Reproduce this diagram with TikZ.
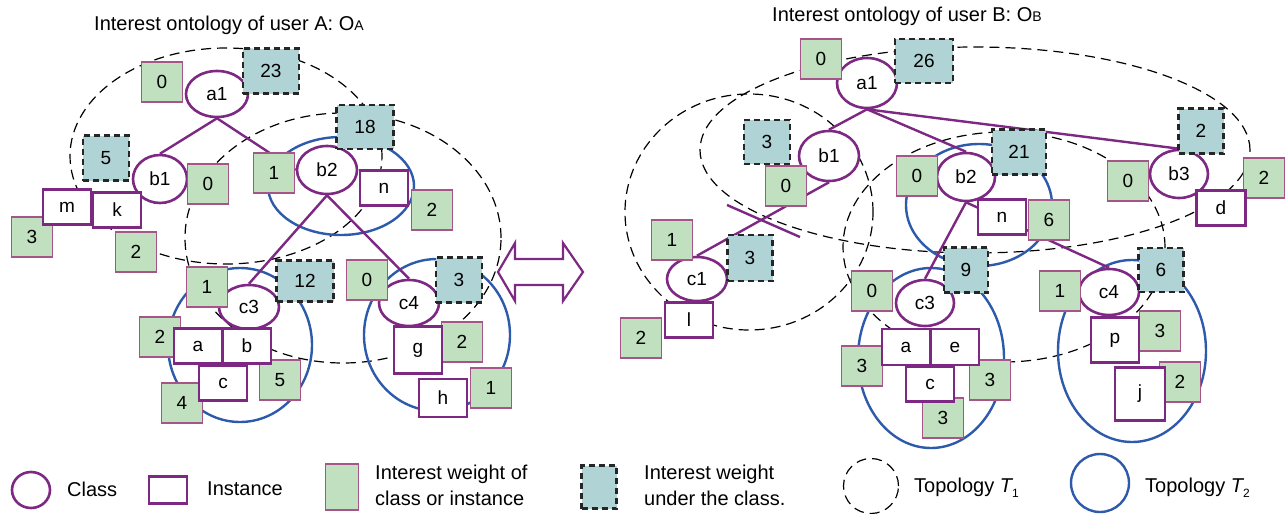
\documentclass[tikz,border=0pt]{standalone}
\usepackage{fontspec}
\setmainfont{Liberation Sans}
\usetikzlibrary{shapes.geometric}
\definecolor{ipurple}{RGB}{125,40,130}
\definecolor{iblue}{RGB}{45,90,170}
\definecolor{gfill}{RGB}{192,224,192}
\definecolor{gborder}{RGB}{165,85,135}
\definecolor{tfill}{RGB}{176,212,214}
\pgfdeclarelayer{bg}
\pgfdeclarelayer{mid}
\pgfsetlayers{bg,mid,main}
\begin{document}
\begin{tikzpicture}[x=1pt,y=-1pt,
  lbl/.style={font=\fontsize{19}{19}\selectfont},
  wh/.style 2 args={minimum width=#1pt, minimum height=#2pt},
  cls/.style={ellipse, draw=ipurple, line width=2.6pt, fill=white, inner sep=0pt, lbl},
  inst/.style={rectangle, draw=ipurple, line width=2.6pt, fill=white, inner sep=0pt, lbl, wh={48}{35}},
  wgt/.style={rectangle, draw=gborder, line width=1.4pt, fill=gfill, inner sep=0pt, lbl, wh={41}{40}},
  sub/.style={rectangle, draw=black!85, line width=2.6pt, dash pattern=on 6pt off 4pt, fill=tfill, inner sep=0pt, lbl, wh={46}{44}},
  topo/.style={ellipse, draw=black, line width=1.2pt, dash pattern=on 10pt off 6pt, inner sep=0pt},
  toptwo/.style={ellipse, draw=iblue, line width=2.4pt, inner sep=0pt},
  pline/.style={draw=ipurple, line width=2.4pt},
  txt/.style={font=\fontsize{20}{26}\selectfont, inner sep=0pt, align=left}
]
\useasboundingbox (0,0) rectangle (1288,514);

% ---------- titles ----------
\node[txt, anchor=west] (titleA) at (94,25) {Interest ontology of user A: O{\fontsize{14}{14}\selectfont A}};
\node[txt, anchor=west] (titleB) at (772,16) {Interest ontology of user B: O{\fontsize{14}{14}\selectfont B}};

% ---------- topologies (background) ----------
\begin{pgfonlayer}{bg}
\node[topo, wh={312}{216}] (LT1a) at (226,156) {};
\node[topo, wh={316}{250}] (LT1b) at (343,238) {};
\node[toptwo, wh={146}{98}] (LT2b) at (341,186) {};
\node[toptwo, wh={144}{154}] (LT2c) at (240,345) {};
\node[toptwo, wh={146}{152}] (LT2d) at (437,335) {};
\node[topo, wh={550}{206}] (RT1a) at (975,150) {};
\node[topo, wh={248}{236}] (RT1b) at (749,212) {};
\node[topo, wh={322}{230}] (RT1c) at (1004,247) {};
\node[toptwo, wh={146}{122}] (RT2b) at (979,205) {};
\node[toptwo, wh={146}{180}] (RT2c) at (931,358) {};
\node[toptwo, wh={148}{182}] (RT2d) at (1132,351) {};
\end{pgfonlayer}

% ---------- classes ----------
\node[cls, wh={62}{46}] (La1) at (217,94) {a1};
\node[cls, wh={54}{48}] (Lb1) at (160,179) {b1};
\node[cls, wh={60}{48}] (Lb2) at (327,170) {b2};
\node[cls, wh={60}{44}] (Lc3) at (249,307) {c3};
\node[cls, wh={60}{46}] (Lc4) at (409,303) {c4};

\node[cls, wh={60}{50}] (Ra1) at (867,83) {a1};
\node[cls, wh={60}{50}] (Rb1) at (829,156) {b1};
\node[cls, wh={58}{48}] (Rb2) at (966,177) {b2};
\node[cls, wh={58}{48}] (Rb3) at (1179,174) {b3};
\node[cls, wh={60}{44}] (Rc1) at (697,279) {c1};
\node[cls, wh={58}{46}] (Rc3) at (925,303) {c3};
\node[cls, wh={60}{46}] (Rc4) at (1109,292) {c4};

% ---------- hierarchy links ----------
\coordinate (cutA) at (727,205);
\coordinate (cutB) at (800,237);
\begin{pgfonlayer}{mid}
\draw[pline] (La1.south) -- (Lb1.north);
\draw[pline] (La1.south) -- (Lb2.west);
\draw[pline] (Lb2.south) -- (Lc3.north);
\draw[pline] (Lb2.south) -- (Lc4.north);
\draw[pline] (Ra1.south) -- (Rb1.north);
\draw[pline] (Ra1.south) -- (Rb2.north);
\draw[pline] (Ra1.south) -- (Rb3.north);
\draw[pline] (Rb1.south) -- (Rc1.north);
\draw[pline] (Rb2.south) -- (Rc3.north);
\draw[pline] (Rb2.south) -- (Rc4.north);
\draw[pline] (cutA) -- (cutB);
\end{pgfonlayer}

% ---------- weights of classes / instances ----------
\node[wgt] (Lw1) at (162,82) {0};
\node[wgt] (Lw2) at (208,184) {0};
\node[wgt] (Lw3) at (274,173) {1};
\node[wgt] (Lw4) at (432,210) {2};
\node[wgt] (Lw5) at (32,237) {3};
\node[wgt] (Lw6) at (136,252) {2};
\node[wgt] (Lw7) at (207,287) {1};
\node[wgt] (Lw8) at (160,337) {2};
\node[wgt] (Lw9) at (182,403) {4};
\node[wgt] (Lw10) at (280,380) {5};
\node[wgt] (Lw11) at (367,280) {0};
\node[wgt] (Lw12) at (462,342) {2};
\node[wgt] (Lw13) at (491,388) {1};

\node[wgt] (Rw1) at (821,59) {0};
\node[wgt] (Rw2) at (786,186) {0};
\node[wgt] (Rw3) at (917,176) {0};
\node[wgt] (Rw4) at (1049,220) {6};
\node[wgt] (Rw5) at (1128,181) {0};
\node[wgt] (Rw6) at (1264,178) {2};
\node[wgt] (Rw7) at (672,240) {1};
\node[wgt] (Rw8) at (641,338) {2};
\node[wgt] (Rw9) at (872,291) {0};
\node[wgt] (Rw10) at (862,366) {3};
\node[wgt] (Rw11) at (990,380) {3};
\node[wgt] (Rw12) at (943,418) {3};
\node[wgt] (Rw13) at (1060,291) {1};
\node[wgt] (Rw14) at (1160,331) {3};
\node[wgt] (Rw15) at (1180,382) {2};

% ---------- weights under the classes ----------
\node[sub, wh={56}{45}] (Ls1) at (271,71) {23};
\node[sub, wh={57}{44}] (Ls2) at (365,127) {18};
\node[sub, wh={46}{45}] (Ls3) at (106,158) {5};
\node[sub, wh={57}{41}] (Ls4) at (305,281) {12};
\node[sub, wh={46}{45}] (Ls5) at (459,280) {3};

\node[sub, wh={58}{44}] (Rs1) at (924,61) {26};
\node[sub, wh={46}{44}] (Rs2) at (767,142) {3};
\node[sub, wh={54}{45}] (Rs3) at (1019,152) {21};
\node[sub, wh={45}{45}] (Rs4) at (1201,131) {2};
\node[sub, wh={45}{46}] (Rs5) at (750,258) {3};
\node[sub, wh={44}{45}] (Rs6) at (966,270) {9};
\node[sub, wh={45}{44}] (Rs7) at (1161,270) {6};

% ---------- instances ----------
\node[inst] (Lm) at (67,207) {m};
\node[inst] (Lk) at (117,210) {k};
\node[inst] (Ln) at (384,188) {n};
\node[inst] (Lia) at (198,346) {a};
\node[inst] (Lib) at (247,346) {b};
\node[inst] (Lic) at (223,383) {c};
\node[inst, wh={48}{47}] (Lg) at (418,350) {g};
\node[inst, wh={48}{38}] (Lh) at (443,398) {h};

\node[inst] (Rn) at (1002,217) {n};
\node[inst, wh={49}{35}] (Rd) at (1221,208) {d};
\node[inst] (Rl) at (689,320) {l};
\node[inst, wh={48}{36}] (Ria) at (906,347) {a};
\node[inst, wh={48}{36}] (Rie) at (955,347) {e};
\node[inst] (Ric) at (930,384) {c};
\node[inst, wh={48}{45}] (Rp) at (1115,340) {p};
\node[inst, wh={50}{53}] (Rj) at (1140,394) {j};

% ---------- double arrow ----------
\coordinate (arL) at (498,272);
\coordinate (arR) at (583,272);
\draw[ipurple, line width=2.2pt, fill=white, line join=miter]
  (arL) -- (515,243) -- (515,259) -- (563,259) -- (563,243) -- (arR)
  -- (563,301) -- (563,285) -- (515,285) -- (515,301) -- cycle;

% ---------- legend ----------
\node[cls, wh={38}{36}] (legC) at (31,490) {};
\node[txt, anchor=west] (legCt) at (67,489) {Class};
\node[inst, wh={38}{27}] (legI) at (168,490) {};
\node[txt, anchor=west] (legIt) at (207,489) {Instance};
\node[wgt, wh={33}{46}] (legW) at (342,487) {};
\node[txt, anchor=west] (legWt) at (375,485) {Interest weight of\\class or instance};
\node[sub, wh={35}{43}] (legS) at (599,487) {};
\node[txt, anchor=west] (legSt) at (644,485) {Interest weight\\under the class.};
\node[topo, wh={55}{55}] (legT1) at (871,486) {};
\node[txt, anchor=west] (legT1t) at (914,488) {Topology {\itshape T}\raisebox{-5pt}{\fontsize{12}{12}\selectfont 1}};
\node[toptwo, wh={58}{58}] (legT2) at (1100,483) {};
\node[txt, anchor=west] (legT2t) at (1145,488) {Topology {\itshape T}\raisebox{-5pt}{\fontsize{12}{12}\selectfont 2}};
\end{tikzpicture}
\end{document}
